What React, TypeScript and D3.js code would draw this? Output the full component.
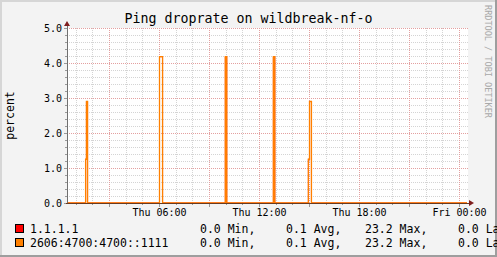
import React from "react";
import * as d3 from "d3";

// ---- data ----
const title = "Ping droprate on wildbreak-nf-o";
const yLabel = "percent";
const watermark = "RRDTOOL / TOBI OETIKER";
const seriesNames = ["1.1.1.1", "2606:4700:4700::1111"];
const seriesColors = ["#FF0000", "#FF8000"];
const minVals = ["0.0", "0.0"];
const avgVals = ["0.1", "0.1"];
const maxVals = ["23.2", "23.2"];
const lastVals = ["0.0", "0.0"];
// nonzero droprate periods (UTC, Thursday), values in percent
const segStart = ["01:34", "01:37", "06:00", "09:57", "12:50", "14:56", "15:00"];
const segEnd = ["01:37", "01:41", "06:11", "10:02", "12:55", "15:00", "15:07"];
const segValue = [1.25, 2.9, 4.18, 4.18, 4.18, 1.25, 2.9];
const yTicks = [0, 1, 2, 3, 4, 5];
const rangeStart = "00:27"; // Thu
const rangeHours = 24;

// ---- layout ----
const W = 497, H = 257;
const L = 67, R = 467, T = 28, B = 203;

const day = Date.UTC(2024, 0, 4); // Thursday
const tAt = (hm: string) => {
  const [h, m] = hm.split(":").map(Number);
  return new Date(day + (h * 60 + m) * 60000);
};
const t0 = tAt(rangeStart);
const t1 = new Date(t0.getTime() + rangeHours * 3600000);

const x = d3.scaleUtc().domain([t0, t1]).range([L, R]);
const y = d3.scaleLinear().domain([0, 5]).range([B, T]);

const pts: { t: Date; v: number }[] = [{ t: t0, v: 0 }];
segStart.forEach((s, i) => {
  pts.push({ t: tAt(s), v: segValue[i] });
  const nextStart = segStart[i + 1];
  if (nextStart !== segEnd[i]) pts.push({ t: tAt(segEnd[i]), v: 0 });
});
pts.push({ t: t1, v: 0 });

const line = d3
  .line<{ t: Date; v: number }>()
  .x((d) => x(d.t))
  .y((d) => y(d.v))
  .curve(d3.curveStepAfter);

const hourTicks = x.ticks(d3.utcHour.every(1)!);
const fmt = d3.utcFormat("%a %H:%M");
const mono = "'DejaVu Sans Mono', monospace";

export default function App() {
  const minorY = d3.range(0, 5.0001, 0.2).filter((v) => Math.abs(v - Math.round(v)) > 1e-6);
  return (
    <div style={{ position: "absolute", left: 0, top: 0 }}>
      <svg width={W} height={H} style={{ display: "block" }} fontFamily={mono}>
        <rect x={0} y={0} width={W} height={H} fill="#F3F3F3" />
        {/* shade border */}
        <rect x={0} y={0} width={W} height={2} fill="#D6D6D6" />
        <rect x={0} y={0} width={2} height={H} fill="#D6D6D6" />
        <rect x={0} y={H - 2} width={W} height={2} fill="#9E9E9E" />
        <rect x={W - 2} y={0} width={2} height={H} fill="#9E9E9E" />
        {/* canvas */}
        <rect x={L} y={T} width={R - L + 1} height={B - T} fill="#FFFFFF" />
        {/* minor grid */}
        <g shapeRendering="crispEdges" strokeDasharray="1,1" strokeWidth={1}>
          {minorY.map((v, i) => (
            <line key={"my" + i} x1={L} x2={R + 1} y1={y(v)} y2={y(v)} stroke="#D4D4D4" />
          ))}
          {hourTicks
            .filter((t) => t.getUTCHours() % 3 !== 0)
            .map((t, i) => (
              <line key={"mx" + i} x1={x(t)} x2={x(t)} y1={T} y2={B} stroke="#D4D4D4" />
            ))}
          {yTicks.map((v) => (
            <line key={"My" + v} x1={L} x2={R + 1} y1={y(v)} y2={y(v)} stroke="#E4A0A0" />
          ))}
          {hourTicks
            .filter((t) => t.getUTCHours() % 3 === 0)
            .map((t, i) => (
              <line key={"Mx" + i} x1={x(t)} x2={x(t)} y1={T} y2={B} stroke="#E4A0A0" />
            ))}
        </g>
        {/* ticks on axes */}
        <g shapeRendering="crispEdges" stroke="#9A9A9A">
          {hourTicks.map((t, i) => (
            <line key={"tx" + i} x1={x(t)} x2={x(t)} y1={B} y2={B + (t.getUTCHours() % 3 === 0 ? 4 : 2)} />
          ))}
          {minorY.map((v, i) => (
            <line key={"ty" + i} x1={L - 2} x2={L} y1={y(v)} y2={y(v)} />
          ))}
          {yTicks.map((v) => (
            <line key={"tY" + v} x1={L - 3} x2={L} y1={y(v)} y2={y(v)} />
          ))}
        </g>
        {/* series */}
        {seriesColors.map((c, i) => (
          <path key={"s" + i} d={line(pts) || ""} fill="none" stroke={c} strokeWidth={i === 0 ? 1 : 1.3} />
        ))}
        {/* axes */}
        <g shapeRendering="crispEdges">
          <line x1={L} x2={L} y1={B + 1} y2={T - 4} stroke="#707070" />
          <line x1={L - 1} x2={R + 4} y1={B} y2={B} stroke="#6A3A1E" />
        </g>
        <path d={`M${L - 3},${T - 2} L${L + 3},${T - 2} L${L},${T - 7} Z`} fill="#7F1F1F" />
        <path d={`M${R + 2},${B - 3} L${R + 2},${B + 3} L${R + 7},${B} Z`} fill="#7F1F1F" />
        {/* y labels */}
        {yTicks.map((v) => (
          <text key={"yl" + v} x={62} y={y(v) + 3.6} fontSize={10} textAnchor="end" fill="#000">
            {d3.format(".1f")(v)}
          </text>
        ))}
        {/* x labels */}
        {hourTicks
          .filter((t) => t.getUTCHours() % 6 === 0)
          .map((t, i) => (
            <text key={"xl" + i} x={x(t)} y={216} fontSize={10} textAnchor="middle" fill="#000">
              {fmt(t)}
            </text>
          ))}
        {/* title */}
        <text x={248.5} y={23} fontSize={13.3} textAnchor="middle" fill="#000">
          {title}
        </text>
        <text transform={`translate(13.5,${(T + B) / 2}) rotate(-90)`} fontSize={11.5} textAnchor="middle" fill="#000">
          {yLabel}
        </text>
        <text
          transform={`translate(484.5,5) rotate(90)`}
          fontSize={8.6}
          fill="#A8A8A8"
          textLength={113}
          lengthAdjust="spacingAndGlyphs"
        >
          {watermark}
        </text>
        {/* legend */}
        {seriesNames.map((n, i) => {
          const by = 233 + i * 14.3;
          return (
            <g key={"lg" + i} fontSize={11.5} fill="#000">
              <rect x={15.5} y={by - 8.5} width={8} height={8} fill={seriesColors[i]} stroke="#000" shapeRendering="crispEdges" />
              <text x={30} y={by}>{n}</text>
              <text x={200} y={by}>{minVals[i] + " Min,"}</text>
              <text x={286} y={by}>{avgVals[i] + " Avg,"}</text>
              <text x={365} y={by}>{maxVals[i] + " Max,"}</text>
              <text x={458} y={by}>{lastVals[i] + " Last"}</text>
            </g>
          );
        })}
      </svg>
    </div>
  );
}
